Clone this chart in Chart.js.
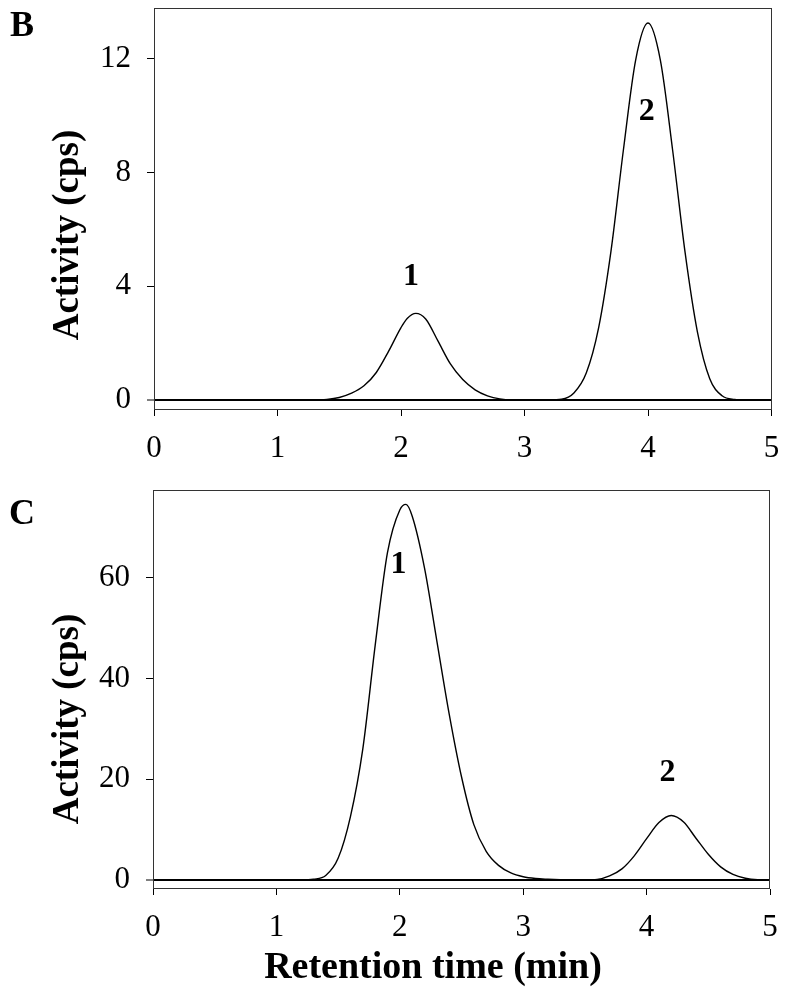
<!DOCTYPE html>
<html>
<head>
<meta charset="utf-8">
<script src="https://cdn.jsdelivr.net/npm/chart.js@4.4.0/dist/chart.umd.min.js"></script>
<style>
html, body { margin: 0; padding: 0; background: #fff; }
canvas { position: absolute; left: 0; }
#chartB { top: 0; }
#chartC { top: 470px; }
</style>
</head>
<body>
<canvas id="chartB" width="787" height="470"></canvas>
<canvas id="chartC" width="787" height="527"></canvas>
<script>
// painel B
var timesB = [0, 1.3, 1.4, 1.5, 1.6, 1.7, 1.8, 1.9, 2.0, 2.05, 2.12, 2.2, 2.3, 2.4, 2.5, 2.6, 2.7, 2.8, 2.9, 3.2, 3.3,
              3.4, 3.5, 3.6, 3.7, 3.8, 3.9, 4.0, 4.1, 4.2, 4.3, 4.4, 4.5, 4.6, 4.7, 4.8, 5.0]
var activityB = [0, 0, 0.02, 0.09, 0.24, 0.5, 0.97, 1.72, 2.55, 2.87, 3.05, 2.85, 2.07, 1.27, 0.72, 0.36, 0.15, 0.04, 0.01, 0.01, 0.03,
                 0.25, 0.95, 2.54, 5.23, 8.77, 11.96, 13.26, 11.96, 8.77, 5.2, 2.4, 0.75, 0.15, 0.02, 0, 0]
var ticksB = [0, 4, 8, 12]
var peakNamesB = ['1', '2']
var peakTimesB = [2.08, 3.99]
var peakLevelsB = [4.33, 10.13]

// painel C
var timesC = [0, 1.2, 1.3, 1.4, 1.5, 1.6, 1.7, 1.8, 1.9, 2.0, 2.05, 2.1, 2.2, 2.3, 2.4, 2.5, 2.6, 2.7, 2.8, 2.9,
              3.0, 3.1, 3.2, 3.3, 3.4, 3.5, 3.6, 3.7, 3.8, 3.9, 4.0, 4.1, 4.2, 4.3, 4.4, 4.5, 4.6, 4.7, 4.8, 4.9, 5.0]
var activityC = [0, 0, 0.15, 0.9, 4.3, 12.6, 26, 46.5, 65, 73.5, 74.6, 72.3, 62, 47.5, 33, 20.5, 11, 5.7, 2.9, 1.4,
                 0.65, 0.3, 0.15, 0.05, 0, 0, 0.1, 0.8, 2.2, 4.8, 8.2, 11.4, 12.8, 11.5, 8.3, 5.1, 2.6, 1.1, 0.35, 0.05, 0]
var ticksC = [0, 20, 40, 60]
var peakNamesC = ['1', '2']
var peakTimesC = [1.99, 4.17]
var peakLevelsC = [62.6, 21.3]

var timeTicks = [0, 1, 2, 3, 4, 5]
var yTitle = 'Activity (cps)'
var xTitle = 'Retention time (min)'

var serif = '"Liberation Serif", "Times New Roman", serif'

// desenha moldura, letras do painel, números dos picos e títulos
var textosPlugin = {
    id: 'textos',
    afterDraw: function (chart, args, o) {
        let ctx = chart.ctx
        let a = chart.chartArea
        ctx.save()
        ctx.strokeStyle = '#333'
        ctx.lineWidth = 1
        ctx.strokeRect(Math.round(a.left) + 0.5, Math.round(a.top) + 0.5,
                       Math.round(a.right - a.left) - 1, Math.round(a.bottom - a.top) - 1)
        ctx.fillStyle = '#000'
        ctx.textAlign = 'center'
        ctx.textBaseline = 'middle'
        ctx.font = 'bold 36px ' + serif
        ctx.fillText(o.letter, o.letterPos[0], o.letterPos[1])
        ctx.font = 'bold 32px ' + serif
        for (let i in o.names) {
            let px = chart.scales.x.getPixelForValue(o.times[i])
            let py = chart.scales.y.getPixelForValue(o.levels[i])
            ctx.fillText(o.names[i], px, py)
        }
        ctx.font = 'bold 37px ' + serif
        ctx.save()
        ctx.translate(o.yTitlePos[0], o.yTitlePos[1])
        ctx.rotate(-Math.PI / 2)
        ctx.fillText(yTitle, 0, 0)
        ctx.restore()
        ctx.font = 'bold 38px ' + serif
        if (o.xTitlePos) ctx.fillText(xTitle, o.xTitlePos[0], o.xTitlePos[1])
        ctx.restore()
    }
}

function makePanel(id, times, activity, yTicks, yMin, yMax, cfg) {
    let pontos = times.map((t, i) => ({ x: t, y: activity[i] }))
    return new Chart(id, {
        type: 'line',
        data: {
            datasets: [{
                data: pontos,
                borderColor: '#000',
                borderWidth: 1.4,
                pointRadius: 0,
                fill: false,
                cubicInterpolationMode: 'monotone'
            }]
        },
        options: {
            responsive: false,
            animation: false,
            layout: { padding: { top: cfg.top, right: cfg.right, left: 0, bottom: 0 } },
            plugins: {
                legend: { display: false },
                tooltip: { enabled: false },
                textos: cfg.textos
            },
            scales: {
                x: {
                    type: 'linear',
                    min: 0,
                    max: 5,
                    afterBuildTicks: s => { s.ticks = timeTicks.map(v => ({ value: v })) },
                    afterFit: s => { s.height = cfg.xHeight; s.paddingLeft = 0; s.paddingRight = 0 },
                    border: { display: false },
                    grid: { drawOnChartArea: false, tickLength: 6, tickColor: '#000', tickWidth: 1 },
                    ticks: { color: '#000', font: { family: serif, size: 31 }, padding: 14, maxRotation: 0, autoSkip: false }
                },
                y: {
                    min: yMin,
                    max: yMax,
                    afterBuildTicks: s => { s.ticks = yTicks.map(v => ({ value: v })) },
                    afterFit: s => { s.width = cfg.yWidth; s.paddingTop = 0; s.paddingBottom = 0 },
                    border: { display: false },
                    grid: {
                        drawOnChartArea: true,
                        color: c => (c.tick && c.tick.value === 0) ? '#000' : 'rgba(0,0,0,0)',
                        lineWidth: c => (c.tick && c.tick.value === 0) ? 2 : 1,
                        tickColor: '#000',
                        tickWidth: 1,
                        tickLength: 7
                    },
                    ticks: { color: '#000', font: { family: serif, size: 31 }, padding: 16 }
                }
            }
        },
        plugins: [textosPlugin]
    })
}

makePanel('chartB', timesB, activityB, ticksB, -0.35, 13.79, {
    top: 8, right: 15.5, xHeight: 60, yWidth: 154,
    textos: { letter: 'B', letterPos: [22, 27], names: peakNamesB, times: peakTimesB, levels: peakLevelsB,
              yTitlePos: [68, 235] }
})
makePanel('chartC', timesC, activityC, ticksC, -1.79, 77.46, {
    top: 20, right: 17, xHeight: 108, yWidth: 153,
    textos: { letter: 'C', letterPos: [22, 45], names: peakNamesC, times: peakTimesC, levels: peakLevelsC,
              yTitlePos: [68, 249], xTitlePos: [433, 498] }
})
</script>
</body>
</html>
